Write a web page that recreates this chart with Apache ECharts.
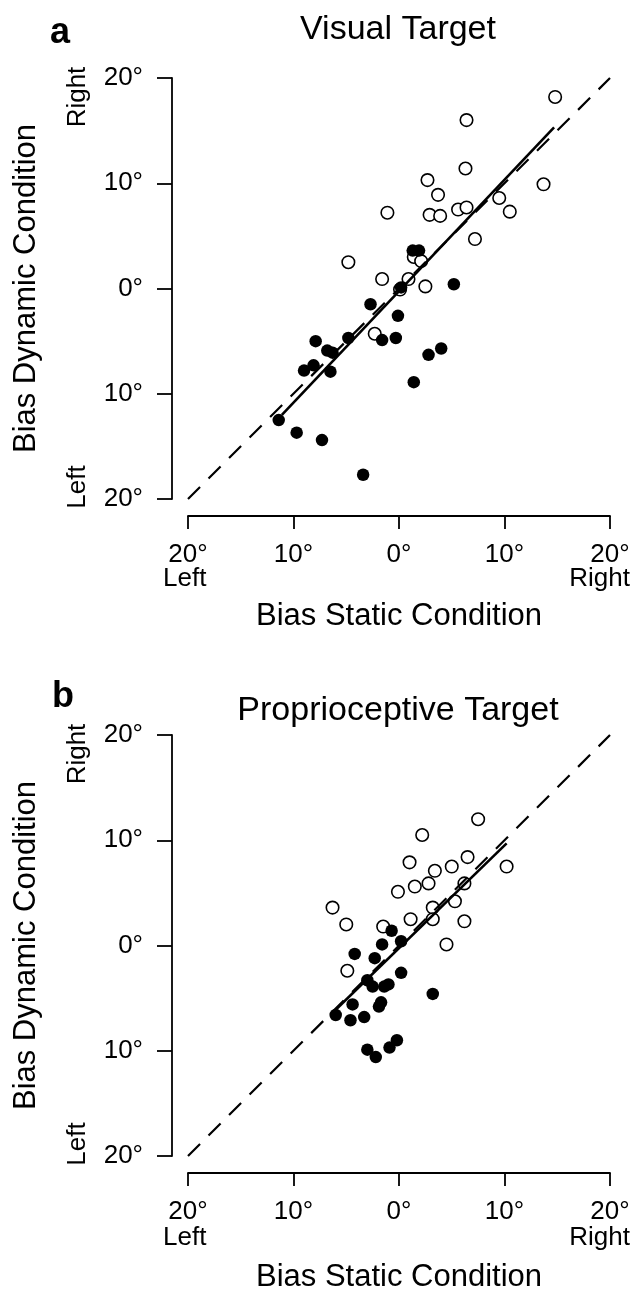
<!DOCTYPE html>
<html>
<head>
<meta charset="utf-8">
<script src="https://cdn.jsdelivr.net/npm/echarts@6/dist/echarts.min.js"></script>
<style>
  html, body { margin: 0; padding: 0; background: #fff; }
  #chart { width: 634px; height: 1303px; }
</style>
</head>
<body>
<div id="chart"></div>
<script>
// axis ticks (degrees), labels show magnitude only
const tickValues = [-20, -10, 0, 10, 20];
const tickLabels = ['20°', '10°', '0°', '10°', '20°'];

// panel a: visual target  [static, dynamic]
const visualOpen = [
  [14.8, 18.2], [6.4, 16.0], [6.3, 11.4], [2.7, 10.3], [3.7, 8.9], [13.7, 9.9],
  [9.5, 8.6], [5.6, 7.5], [6.4, 7.7], [2.9, 7.0], [3.9, 6.9], [-1.1, 7.2],
  [10.5, 7.3], [7.2, 4.7], [-4.8, 2.5], [1.4, 3.0], [2.1, 2.6], [-1.6, 0.9],
  [0.9, 0.9], [2.5, 0.2], [0.1, -0.1], [-2.3, -4.3]
];
const visualFilled = [
  [1.3, 3.6], [1.9, 3.6], [0.2, 0.1], [5.2, 0.4], [-2.7, -1.5], [-0.1, -2.6],
  [-7.9, -5.0], [-4.8, -4.7], [-1.6, -4.9], [-0.3, -4.7], [-6.8, -5.9], [-6.3, -6.1],
  [4.0, -5.7], [2.8, -6.3], [-8.1, -7.3], [-9.0, -7.8], [-6.5, -7.9], [1.4, -8.9],
  [-11.4, -12.5], [-9.7, -13.7], [-7.3, -14.4], [-3.4, -17.7]
];
const visualFit = [[-11.1, -12.0], [14.7, 15.3]];

// panel b: proprioceptive target
const propOpen = [
  [7.5, 12.0], [2.2, 10.5], [1.0, 7.9], [6.5, 8.4], [5.0, 7.5], [10.2, 7.5],
  [3.4, 7.1], [2.8, 5.9], [1.5, 5.6], [6.2, 5.9], [-0.1, 5.1], [5.3, 4.2],
  [3.2, 3.6], [-6.3, 3.6], [-5.0, 2.0], [-1.5, 1.8], [1.1, 2.5], [3.2, 2.5],
  [6.2, 2.3], [4.5, 0.1], [-4.9, -2.4]
];
const propFilled = [
  [-0.7, 1.4], [-1.6, 0.1], [0.2, 0.4], [-4.2, -0.8], [-2.3, -1.2], [0.2, -2.6],
  [-3.0, -3.3], [-2.5, -3.9], [-1.4, -3.9], [-1.0, -3.7], [3.2, -4.6], [-4.4, -5.6],
  [-1.7, -5.4], [-1.9, -5.8], [-6.0, -6.6], [-4.6, -7.1], [-3.3, -6.8], [-3.0, -9.9],
  [-2.2, -10.6], [-0.9, -9.7], [-0.2, -9.0]
];
const propFit = [[-6.0, -6.1], [10.2, 9.7]];

const identity = [[-20, -20], [20, 20]];

const FONT = '"Liberation Sans", Arial, Helvetica, sans-serif';
const chart = echarts.init(document.getElementById('chart'));

function fmt(v) {
  const i = tickValues.indexOf(v);
  return i >= 0 ? tickLabels[i] : '';
}

function xAxisFor(gridIndex, nameGap) {
  return {
    gridIndex: gridIndex, type: 'value', min: -20, max: 20, interval: 10,
    offset: 17,
    name: 'Bias Static Condition', nameLocation: 'middle', nameGap: nameGap,
    nameTextStyle: { fontFamily: FONT, fontSize: 31, color: '#000' },
    axisLine: { show: true, onZero: false, lineStyle: { color: '#000', width: 1.8 } },
    axisTick: { show: true, inside: false, length: 13, lineStyle: { color: '#000', width: 1.8 } },
    axisLabel: { margin: 26, formatter: fmt, fontFamily: FONT, fontSize: 26, lineHeight: 26, color: '#000' },
    splitLine: { show: false }
  };
}

function yAxisFor(gridIndex) {
  return {
    gridIndex: gridIndex, type: 'value', min: -20, max: 20, interval: 10,
    offset: 16,
    name: 'Bias Dynamic Condition', nameLocation: 'middle', nameGap: 130,
    nameTextStyle: { fontFamily: FONT, fontSize: 31, color: '#000' },
    axisLine: { show: true, onZero: false, lineStyle: { color: '#000', width: 1.8 } },
    axisTick: { show: true, inside: false, length: 15, lineStyle: { color: '#000', width: 1.8 } },
    axisLabel: { margin: 29, formatter: fmt, fontFamily: FONT, fontSize: 26, color: '#000' },
    splitLine: { show: false }
  };
}

function panelSeries(idx, open, filled, fit) {
  return [
    {
      type: 'scatter', xAxisIndex: idx, yAxisIndex: idx, data: open, symbolSize: 12.5, z: 2,
      itemStyle: { color: '#fff', borderColor: '#000', borderWidth: 1.6, opacity: 1 }
    },
    {
      type: 'scatter', xAxisIndex: idx, yAxisIndex: idx, data: filled, symbolSize: 12.5, z: 3,
      itemStyle: { color: '#000', opacity: 1 }
    },
    {
      type: 'line', xAxisIndex: idx, yAxisIndex: idx, data: identity, symbol: 'none', z: 4,
      lineStyle: { color: '#000', width: 2.2, type: [17, 12] }
    },
    {
      type: 'line', xAxisIndex: idx, yAxisIndex: idx, data: fit, symbol: 'none', z: 5,
      lineStyle: { color: '#000', width: 2.6 }
    }
  ];
}

function txt(text, x, y, opts) {
  return {
    type: 'text', x: x, y: y, rotation: (opts && opts.rot) || 0, silent: true,
    style: Object.assign({
      text: text, fill: '#000', fontFamily: FONT, fontSize: 26,
      textAlign: 'center', textVerticalAlign: 'middle'
    }, (opts && opts.style) || {})
  };
}

const dy = 657; // vertical shift of panel b relative to panel a

const option = {
  animation: false,
  backgroundColor: '#fff',
  grid: [
    { left: 188, width: 422, top: 78, height: 421 },
    { left: 188, width: 422, top: 735, height: 421 }
  ],
  xAxis: [xAxisFor(0, 85), xAxisFor(1, 89)],
  yAxis: [yAxisFor(0), yAxisFor(1)],
  series: panelSeries(0, visualOpen, visualFilled, visualFit)
    .concat(panelSeries(1, propOpen, propFilled, propFit)),
  graphic: [
    txt('a', 50, 33, { style: { fontSize: 36, fontWeight: 'bold', textAlign: 'left' } }),
    txt('Visual Target', 398, 30, { style: { fontSize: 34 } }),
    txt('b', 52, 697, { style: { fontSize: 36, fontWeight: 'bold', textAlign: 'left' } }),
    txt('Proprioceptive Target', 398, 711, { style: { fontSize: 34 } }),

    txt('Right', 78, 97, { rot: Math.PI / 2 }),
    txt('Left', 78, 487, { rot: Math.PI / 2 }),
    txt('Right', 78, 97 + dy, { rot: Math.PI / 2 }),
    txt('Left', 78, 487 + dy, { rot: Math.PI / 2 }),

    txt('Left', 163, 579, { style: { textAlign: 'left' } }),
    txt('Right', 630, 579, { style: { textAlign: 'right' } }),
    txt('Left', 163, 1238, { style: { textAlign: 'left' } }),
    txt('Right', 630, 1238, { style: { textAlign: 'right' } })
  ]
};

chart.setOption(option);
</script>
</body>
</html>
